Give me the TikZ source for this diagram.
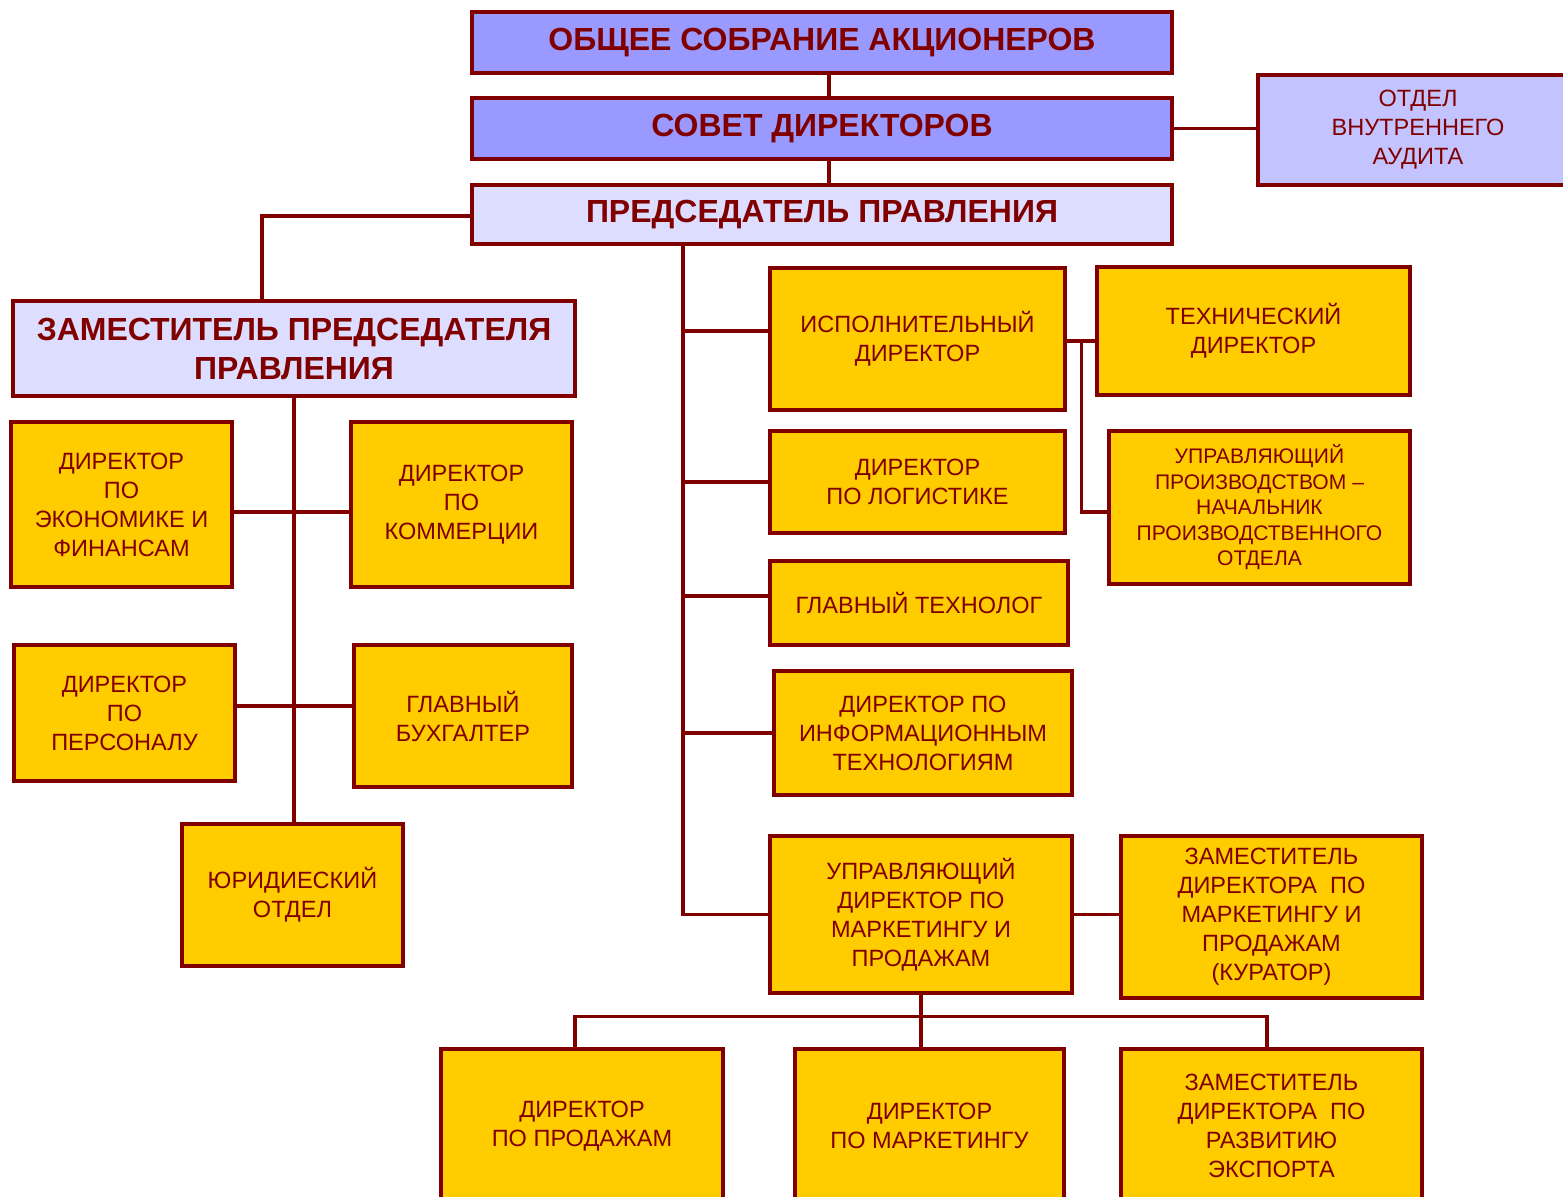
\documentclass[tikz,border=0pt]{standalone}
\usepackage{fontspec}
\setmainfont{Liberation Sans}
\usepackage{tikz}
\definecolor{boardred}{RGB}{128,0,0}
\definecolor{topblue}{RGB}{153,153,255}
\definecolor{chairlilac}{RGB}{221,221,255}
\definecolor{auditblue}{RGB}{195,195,255}
\definecolor{officeyellow}{RGB}{255,204,0}

\begin{document}
\begin{tikzpicture}[
    x=0.02cm, y=-0.02cm,
    orgbox/.style={rectangle, draw=boardred, line width=1.9pt, text=boardred,
        inner sep=2pt, align=center, font=\fontsize{13.4}{16.5}\selectfont},
    headbox/.style={orgbox, fill=topblue, text depth=0.12cm, font=\fontsize{18.2}{22}\selectfont\bfseries},
    chairbox/.style={orgbox, fill=chairlilac, font=\fontsize{18.2}{22.2}\selectfont\bfseries},
    auditbox/.style={orgbox, fill=auditblue},
    block/.style={orgbox, fill=officeyellow},
    link/.style={draw=boardred, line width=2pt}
]
    \useasboundingbox (0,0) rectangle (1563,1197);
    \fill[white] (0,0) rectangle (1563,1197);
    \clip (0,0) rectangle (1563,1197);

    % Top of the chart
    \node[headbox, minimum width=14cm, minimum height=1.22cm] (gsa) at (822,42.5) {ОБЩЕЕ СОБРАНИЕ АКЦИОНЕРОВ};
    \node[headbox, minimum width=14cm, minimum height=1.22cm] (sd) at (822,128.5) {СОВЕТ ДИРЕКТОРОВ};
    \node[headbox, fill=chairlilac, minimum width=14cm, minimum height=1.18cm] (pred) at (822,214.5) {ПРЕДСЕДАТЕЛЬ ПРАВЛЕНИЯ};
    \node[auditbox, minimum width=6.4cm, minimum height=2.2cm] (audit) at (1418,130) {ОТДЕЛ\\ВНУТРЕННЕГО\\АУДИТА};

    % Left branch
    \node[chairbox, minimum width=11.24cm, minimum height=1.9cm] (zam) at (294,348.5) {ЗАМЕСТИТЕЛЬ ПРЕДСЕДАТЕЛЯ\\ПРАВЛЕНИЯ};
    \node[block, minimum width=4.42cm, minimum height=3.3cm] (econ) at (121.5,504.5) {ДИРЕКТОР\\ПО\\ЭКОНОМИКЕ И\\ФИНАНСАМ};
    \node[block, minimum width=4.42cm, minimum height=3.3cm] (comm) at (461.5,504.5) {ДИРЕКТОР\\ПО\\КОММЕРЦИИ};
    \node[block, minimum width=4.42cm, minimum height=2.72cm] (pers) at (124.5,713) {ДИРЕКТОР\\ПО\\ПЕРСОНАЛУ};
    \node[block, minimum width=4.36cm, minimum height=2.84cm] (buh) at (463,716) {ГЛАВНЫЙ\\БУХГАЛТЕР};
    \node[block, minimum width=4.42cm, minimum height=2.84cm] (jur) at (292.5,895) {ЮРИДИЕСКИЙ\\ОТДЕЛ};

    % Right branch
    \node[block, minimum width=5.9cm, minimum height=2.84cm] (isp) at (917.5,339) {ИСПОЛНИТЕЛЬНЫЙ\\ДИРЕКТОР};
    \node[block, minimum width=6.26cm, minimum height=2.56cm] (tech) at (1253.5,331) {ТЕХНИЧЕСКИЙ\\ДИРЕКТОР};
    \node[block, minimum width=6.02cm, minimum height=3.06cm, font=\fontsize{12}{14.5}\selectfont] (upr) at (1259.5,507.5) {УПРАВЛЯЮЩИЙ\\ПРОИЗВОДСТВОМ –\\НАЧАЛЬНИК\\ПРОИЗВОДСТВЕННОГО\\ОТДЕЛА};
    \node[block, minimum width=5.9cm, minimum height=2.04cm] (logi) at (917.5,482) {ДИРЕКТОР\\ПО ЛОГИСТИКЕ};
    \node[block, minimum width=5.96cm, minimum height=1.68cm] (tehn) at (919,603) {ГЛАВНЫЙ ТЕХНОЛОГ};
    \node[block, minimum width=5.96cm, minimum height=2.48cm] (it) at (923,733) {ДИРЕКТОР ПО\\ИНФОРМАЦИОННЫМ\\ТЕХНОЛОГИЯМ};
    \node[block, minimum width=6.04cm, minimum height=3.14cm] (umd) at (921,914.5) {УПРАВЛЯЮЩИЙ\\ДИРЕКТОР ПО\\МАРКЕТИНГУ И\\ПРОДАЖАМ};
    \node[block, minimum width=6.02cm, minimum height=3.24cm] (kur) at (1271.5,917) {ЗАМЕСТИТЕЛЬ\\ДИРЕКТОРА\ \ ПО\\МАРКЕТИНГУ И\\ПРОДАЖАМ\\(КУРАТОР)};

    % Bottom row
    \node[block, minimum width=5.64cm, minimum height=3.08cm] (sales) at (582,1126) {ДИРЕКТОР\\ПО ПРОДАЖАМ};
    \node[block, minimum width=5.38cm, minimum height=3.08cm] (mkt) at (929.5,1126) {ДИРЕКТОР\\ПО МАРКЕТИНГУ};
    \node[block, minimum width=6.02cm, minimum height=3.08cm] (expo) at (1271.5,1126) {ЗАМЕСТИТЕЛЬ\\ДИРЕКТОРА\ \ ПО\\РАЗВИТИЮ\\ЭКСПОРТА};

    % Connectors
    \draw[link] ([xshift=0.14cm]gsa.south) -- ([xshift=0.14cm]sd.north);
    \draw[link] ([xshift=0.14cm]sd.south) -- ([xshift=0.14cm]pred.north);
    \draw[link] (sd.east) -- (sd.east -| audit.west);
    \draw[link] ([yshift=-0.03cm]pred.west) -| ([xshift=-0.64cm]zam.north);

    \draw[link] (zam.south) -- (zam.south |- jur.north);
    \draw[link] ([yshift=-0.15cm]econ.east) -- ([yshift=-0.15cm]econ.east -| comm.west);
    \draw[link] ([yshift=0.14cm]pers.east) -- ([yshift=0.14cm]pers.east -| buh.west);

    \coordinate (trunk) at ([xshift=-2.78cm]pred.south);
    \draw[link] (trunk) |- (umd.west);
    \draw[link] ([yshift=0.16cm]trunk |- isp.west) -- ([yshift=0.16cm]isp.west);
    \draw[link] (trunk |- logi.west) -- (logi.west);
    \draw[link] ([yshift=0.14cm]trunk |- tehn.west) -- ([yshift=0.14cm]tehn.west);
    \draw[link] (trunk |- it.west) -- (it.west);

    \draw[link] ([yshift=-0.04cm]isp.east) -- ([yshift=-0.04cm]isp.east -| tech.west);
    \coordinate (ispj) at ([xshift=0.3cm,yshift=-0.04cm]isp.east);
    \draw[link] (ispj) |- ([yshift=-0.09cm]upr.west);
    \draw[link] (umd.east) -- (umd.east -| kur.west);

    \draw[link] (umd.south) -- (umd.south |- mkt.north);
    \draw[link] ([xshift=-0.14cm]sales.north) -- ++(0,-31) -| ([xshift=-0.09cm]expo.north);
\end{tikzpicture}
\end{document}
